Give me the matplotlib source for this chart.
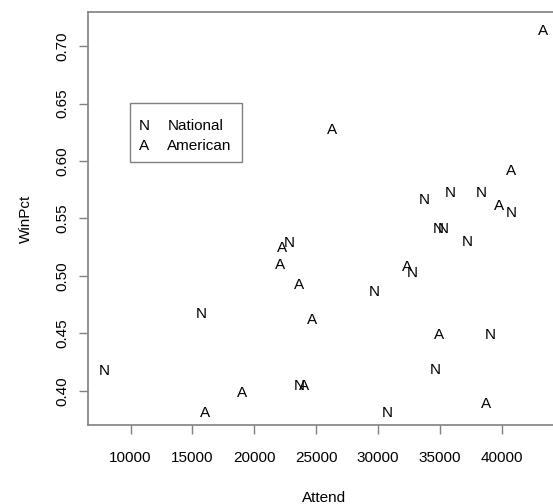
import matplotlib
matplotlib.use("Agg")
import matplotlib.pyplot as plt
from matplotlib.patches import Rectangle
from matplotlib.transforms import offset_copy

plt.rcParams['font.family'] = ['Liberation Sans', 'DejaVu Sans']

# Average attendance vs. winning percentage, one letter per team
nl_attend = [7883, 15754, 23673, 30752, 29677, 32804, 39051, 34663,
             33717, 35818, 38380, 40804, 34848, 35293, 37216, 22848]
nl_winpct = [0.4188, 0.4681, 0.4052, 0.3820, 0.4872, 0.5043, 0.4502, 0.4191,
             0.5670, 0.5733, 0.5733, 0.5559, 0.5423, 0.5423, 0.5307, 0.5304]

al_attend = [16020, 18986, 23996, 24642, 23640, 32319, 34929, 38703,
             43309, 26259, 40747, 39778, 22242, 22081]
al_winpct = [0.3820, 0.3994, 0.4052, 0.4626, 0.4933, 0.5087, 0.4496, 0.3898,
             0.7145, 0.6284, 0.5930, 0.5623, 0.5252, 0.5110]

x_ticks = [10000, 15000, 20000, 25000, 30000, 35000, 40000]
y_ticks = [0.40, 0.45, 0.50, 0.55, 0.60, 0.65, 0.70]
legend_symbols = ["N", "A"]
legend_labels = ["National", "American"]

W, H = 553, 504
fig = plt.figure(figsize=(W / 100, H / 100), dpi=100)
# plot region (right edge runs slightly past the canvas)
left_px, right_px, top_px, bottom_px = 87.7, 560.0, 12.0, 425.0
ax = fig.add_axes([left_px / W, 1 - bottom_px / H,
                   (right_px - left_px) / W, (bottom_px - top_px) / H])

ax.set_xlim(6541, 44707)
ax.set_ylim(0.3704, 0.7296)

fs = 11
box_color = '#808080'
for s in ax.spines.values():
    s.set_color(box_color)
    s.set_linewidth(1.2)

# letters drawn with their capital centred on the data point
cap_shift = offset_copy(ax.transData, fig=fig, x=0, y=-0.358 * fs, units='points')
for x, y in zip(nl_attend, nl_winpct):
    ax.text(x, y, "N", transform=cap_shift, ha='center', va='baseline',
            fontsize=fs, color='black')
for x, y in zip(al_attend, al_winpct):
    ax.text(x, y, "A", transform=cap_shift, ha='center', va='baseline',
            fontsize=fs, color='black')

ax.set_xticks(x_ticks)
ax.set_xticklabels([str(t) for t in x_ticks])
ax.set_yticks(y_ticks)
ax.set_yticklabels([f"{t:.2f}" for t in y_ticks])
ax.tick_params(axis='both', direction='out', length=6.5, width=1.0,
               color=box_color, labelsize=fs, labelcolor='black')
ax.tick_params(axis='x', pad=12.5)
ax.tick_params(axis='y', pad=7)
for lab in ax.get_yticklabels():
    lab.set_rotation(90)
    lab.set_va('center')

ax.set_xlabel("Attend", fontsize=fs, va='center')
ax.xaxis.set_label_coords(0.5, -0.176)
ax.set_ylabel("WinPct", fontsize=fs, va='center')
ax.yaxis.set_label_coords(-0.13, 0.5)

# legend box
ax.add_patch(Rectangle((0.0902, 0.6375), 0.326 - 0.0902, 0.779 - 0.6375,
                       transform=ax.transAxes, fill=False,
                       edgecolor=box_color, linewidth=1.0))
leg_shift = offset_copy(ax.transAxes, fig=fig, x=0, y=-0.358 * fs, units='points')
for sym, lab, yy in zip(legend_symbols, legend_labels, [0.728, 0.6797]):
    ax.text(0.1198, yy, sym, transform=leg_shift, ha='center', va='baseline',
            fontsize=fs)
    ax.text(0.1685, yy, lab, transform=leg_shift, ha='left', va='baseline',
            fontsize=fs)

fig.savefig("out.png", dpi=100)
